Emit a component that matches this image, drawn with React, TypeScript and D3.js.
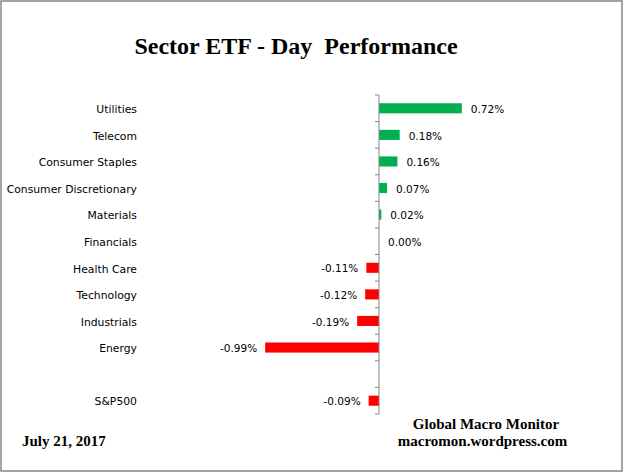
import React from "react";
import * as d3 from "d3";

const categories = [
  "Utilities",
  "Telecom",
  "Consumer Staples",
  "Consumer Discretionary",
  "Materials",
  "Financials",
  "Health Care",
  "Technology",
  "Industrials",
  "Energy",
  "",
  "S&P500",
];
const values: (number | null)[] = [0.72, 0.18, 0.16, 0.07, 0.02, 0.0, -0.11, -0.12, -0.19, -0.99, null, -0.09];

const W = 626;
const H = 473;
const AXIS_COLOR = "#868686";
const POS = "#00B050";
const NEG = "#FF0000";
const LABEL_FONT = "'DejaVu Sans', sans-serif";
const SERIF = "'Liberation Serif', 'Times New Roman', serif";

export default function App() {
  const x = d3.scaleLinear().domain([-1, 1]).range([264, 494]);
  const idx = categories.map((_, i) => String(i));
  const y = d3.scaleBand<string>().domain(idx).range([95, 414]).paddingInner(0.62).paddingOuter(0.31);
  const step = y.step();
  const x0 = x(0);
  const tickYs = d3.range(categories.length + 1).map((i) => 95 + i * step);

  return (
    <svg
      width={W}
      height={H}
      style={{ position: "absolute", left: 0, top: 0, background: "#fff" }}
    >
      <rect x={0} y={0} width={W} height={H} fill="#fff" />
      <rect x={1} y={1} width={621} height={470} fill="none" stroke={AXIS_COLOR} strokeWidth={1.5} />
      <text
        x={296}
        y={54}
        textAnchor="middle"
        fontFamily={SERIF}
        fontWeight="bold"
        fontSize={24}
        style={{ whiteSpace: "pre" }}
      >
        {"Sector ETF - Day  Performance"}
      </text>

      {values.map((v, i) =>
        v === null ? null : (
          <rect
            key={"b" + i}
            x={Math.min(x(v), x0)}
            y={y(String(i))}
            width={Math.abs(x(v) - x0)}
            height={y.bandwidth()}
            fill={v >= 0 ? POS : NEG}
          />
        )
      )}

      <line x1={x0} x2={x0} y1={95} y2={414} stroke={AXIS_COLOR} strokeWidth={1} />
      {tickYs.map((ty, i) => (
        <line key={"t" + i} x1={x0 - 4} x2={x0} y1={ty} y2={ty} stroke={AXIS_COLOR} strokeWidth={1} />
      ))}

      {categories.map((c, i) => (
        <text
          key={"c" + i}
          x={137}
          y={(y(String(i)) as number) + y.bandwidth() / 2 + 1}
          dy="0.35em"
          textAnchor="end"
          fontFamily={LABEL_FONT}
          fontSize={10.8}
          fill="#000"
        >
          {c}
        </text>
      ))}

      {values.map((v, i) =>
        v === null ? null : (
          <text
            key={"v" + i}
            x={v >= 0 ? x(v) + 9 : x(v) - 8}
            y={(y(String(i)) as number) + y.bandwidth() / 2 + 1}
            dy="0.35em"
            textAnchor={v >= 0 ? "start" : "end"}
            fontFamily={LABEL_FONT}
            fontSize={10.5}
            fill="#000"
          >
            {v.toFixed(2) + "%"}
          </text>
        )
      )}

      <text x={486} y={429} textAnchor="middle" fontFamily={SERIF} fontWeight="bold" fontSize={15}>
        Global Macro Monitor
      </text>
      <text x={482.5} y={446} textAnchor="middle" fontFamily={SERIF} fontWeight="bold" fontSize={15}>
        macromon.wordpress.com
      </text>
      <text x={22} y={446} textAnchor="start" fontFamily={SERIF} fontWeight="bold" fontSize={15}>
        July 21, 2017
      </text>
    </svg>
  );
}
